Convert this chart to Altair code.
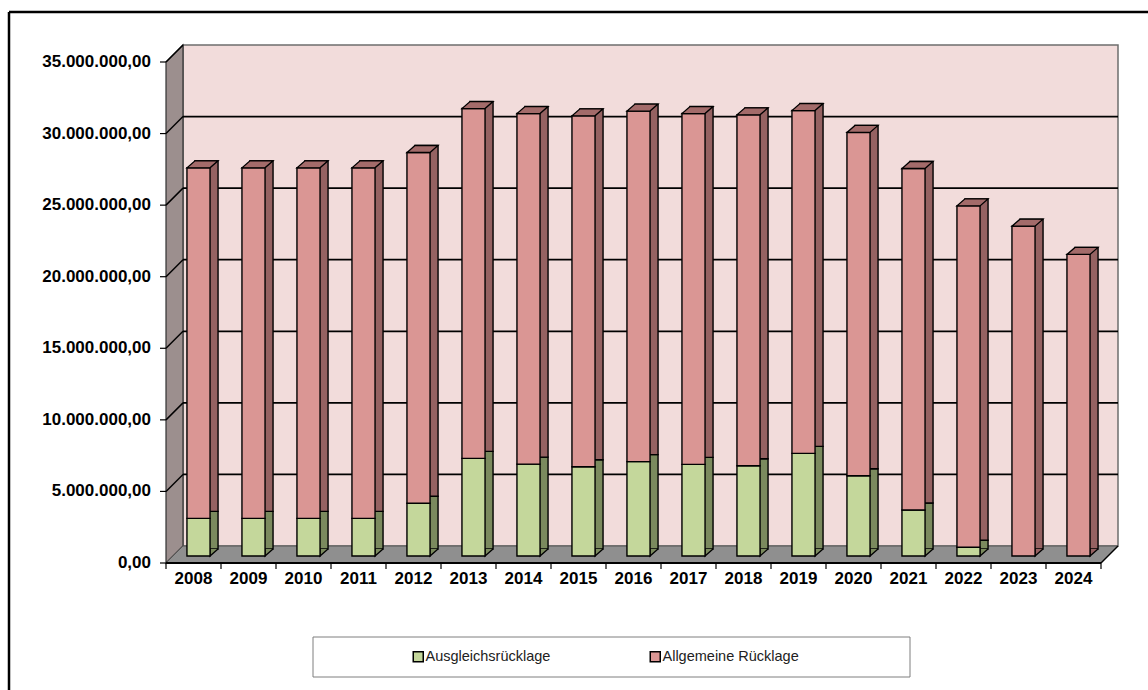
import altair as alt
import pandas as pd

# ---------------- data (values in EUR) ----------------
years = [str(y) for y in range(2008, 2025)]
ausgleich_mio = [2.63, 2.63, 2.63, 2.63, 3.68, 6.82, 6.42, 6.24, 6.59, 6.40,
                 6.31, 7.17, 5.61, 3.21, 0.61, 0.0, 0.0]
allgemein_mio = [24.49, 24.49, 24.49, 24.49, 24.51, 24.44, 24.49, 24.51, 24.49,
                 24.51, 24.51, 23.95, 23.98, 23.86, 23.85, 23.04, 21.07]
series = ["Ausgleichsrücklage", "Allgemeine Rücklage"]
y_ticks = [0, 5e6, 10e6, 15e6, 20e6, 25e6, 30e6, 35e6]
grid_vals = [5e6, 10e6, 15e6, 20e6, 25e6, 30e6]
stub_vals = [5e6, 10e6, 15e6, 20e6, 25e6, 30e6, 35e6]

front_colors = ["#C4D79B", "#DA9694"]
side_colors = ["#7B8A5E", "#956262"]

rows = []
for i, y in enumerate(years):
    rows.append({"year": y, "series": series[0], "idx": 0, "value": ausgleich_mio[i] * 1e6})
    rows.append({"year": y, "series": series[1], "idx": 1, "value": allgemein_mio[i] * 1e6})
df = pd.DataFrame(rows)
years_df = pd.DataFrame({"year": years})
ytick_df = pd.DataFrame({"v": y_ticks})
grid_df = pd.DataFrame({"v": grid_vals})
stub_df = pd.DataFrame({"v": stub_vals})
one = pd.DataFrame({"a": [0]})

W, H = 935, 501
D = 17  # depth offset of the pseudo-3D walls
FONT = "Liberation Sans"

x_scale = alt.Scale(paddingInner=0, paddingOuter=0)
y_scale = alt.Scale(domain=[0, 35e6], nice=False)

de_label = ("replace(join(split(join(split(format(datum.v, ',.2f'), '.'), '#'), ','), '.'), '#', ',')")

X = lambda **kw: alt.X("year:N", scale=x_scale, axis=None, sort=years, **kw)

# outer frame
frame_left = alt.Chart(one).mark_rule(color="black", strokeWidth=2.5).encode(
    x=alt.value(-174), y=alt.value(-33), y2=alt.value(H + 144))
frame_top = alt.Chart(one).mark_rule(color="black", strokeWidth=2.5).encode(
    x=alt.value(-174), x2=alt.value(W + 40), y=alt.value(-33))

# left wall and floor (pseudo 3D)
left_wall = alt.Chart(one).mark_point(
    shape="M0.032819,-1L-0.032819,-0.934363L-0.032819,1L0.032819,0.934363Z",
    size=(H + D) ** 2, filled=True, fill="#9C8F8E", stroke="#333333",
    strokeWidth=1.2, opacity=1).encode(x=alt.value(-D / 2), y=alt.value((H + D) / 2))
floor = alt.Chart(one).mark_point(
    shape="M-0.964286,-0.017857L1,-0.017857L0.964286,0.017857L-1,0.017857Z",
    size=(W + D) ** 2, filled=True, fill="#8F8F8F", stroke="#555555",
    strokeWidth=1, opacity=1).encode(x=alt.value((W - D) / 2), y=alt.value(H + D / 2))
front_edge = alt.Chart(one).mark_rule(color="black", strokeWidth=2).encode(
    x=alt.value(-D), x2=alt.value(W - D), y=alt.value(H + D))
right_edge = alt.Chart(one).mark_rule(color="black", strokeWidth=1.5).encode(
    x=alt.value(W - D), x2=alt.value(W), y=alt.value(H + D), y2=alt.value(H))

# gridlines on the back wall and the slanted stubs on the left wall
grid = alt.Chart(grid_df).mark_rule(color="black", strokeWidth=1.8).encode(
    y=alt.Y("v:Q", scale=y_scale, axis=None), x=alt.value(0), x2=alt.value(W))
stubs = alt.Chart(stub_df).mark_rule(color="black", strokeWidth=1.5, yOffset=D).encode(
    y=alt.Y("v:Q", scale=y_scale, axis=None), y2="v:Q", x=alt.value(-D), x2=alt.value(0))

# y axis (front plane): ticks and German-formatted labels
y_tick_marks = alt.Chart(ytick_df).mark_rule(color="black", strokeWidth=1.2, yOffset=D).encode(
    y=alt.Y("v:Q", scale=y_scale, axis=None), x=alt.value(-D - 6), x2=alt.value(-D))
y_labels = alt.Chart(ytick_df).transform_calculate(lab=de_label).mark_text(
    align="right", baseline="middle", font=FONT, fontWeight="bold", fontSize=17,
    color="black", yOffset=D).encode(
    y=alt.Y("v:Q", scale=y_scale, axis=None), x=alt.value(-D - 15), text="lab:N")

# x axis (front plane): ticks at band edges and year labels
x_ticks = alt.Chart(years_df).mark_rule(color="black", strokeWidth=1.2, xOffset=-D).encode(
    x=X(bandPosition=0), y=alt.value(H + D), y2=alt.value(H + D + 6))
x_tick_last = alt.Chart(years_df).transform_filter(
    alt.datum.year == years[-1]).mark_rule(color="black", strokeWidth=1.2, xOffset=-D).encode(
    x=X(bandPosition=1), y=alt.value(H + D), y2=alt.value(H + D + 6))
x_labels = alt.Chart(years_df).mark_text(
    align="center", baseline="top", font=FONT, fontWeight="bold", fontSize=17,
    color="black", xOffset=-D).encode(
    x=X(), y=alt.value(H + D + 8), text="year:N")

bar_base = alt.Chart(df).transform_filter("datum.value > 0")

bars_back = bar_base.mark_bar(
    width=alt.RelativeBandSize(0.42), xOffset=-4, x2Offset=-4, yOffset=3, y2Offset=3,
    stroke="black", strokeWidth=1.4).encode(
    x=X(),
    y=alt.Y("value:Q", stack="zero", scale=y_scale, axis=None),
    color=alt.Color("series:N", scale=alt.Scale(domain=series, range=side_colors), legend=None),
    order=alt.Order("idx:Q"))

# lower end of the side faces (fills the small notch at the bottom right)
bottoms = bar_base.transform_aggregate(
    minidx="min(idx)", groupby=["year"]
).transform_calculate(zero="0").mark_point(
    shape="M0.71875,-0.4375L0.71875,0L1.21875,-0.4375",
    size=1024, filled=True, stroke="black", strokeWidth=1.3, opacity=1,
    xOffset=-12, yOffset=10).encode(
    x=X(),
    y=alt.Y("zero:Q", scale=y_scale, axis=None),
    fill=alt.condition("datum.minidx == 0", alt.value(side_colors[0]), alt.value(side_colors[1])))

bars_front = bar_base.mark_bar(
    width=alt.RelativeBandSize(0.42), xOffset=-12, x2Offset=-12, yOffset=10, y2Offset=10,
    stroke="black", strokeWidth=1.4).encode(
    x=X(),
    y=alt.Y("value:Q", stack="zero", scale=y_scale, axis=None),
    color=alt.Color("series:N", scale=alt.Scale(domain=series, range=front_colors),
                    legend=alt.Legend(orient="none", legendX=228, legendY=604,
                                      direction="horizontal", title=None,
                                      symbolType="square", symbolSize=100,
                                      symbolStrokeColor="black", symbolStrokeWidth=1.5,
                                      labelFont=FONT, labelFontSize=14.5,
                                      labelColor="#222222", labelOffset=0,
                                      columnPadding=96, padding=0)),
    order=alt.Order("idx:Q"))

# top faces of the bars (pseudo 3D), placed at each year's total
tops = alt.Chart(df).transform_aggregate(
    total="sum(value)", groupby=["year"]
).mark_point(
    shape="M-0.71875,0L0.71875,0L1.21875,-0.4375L-0.21875,-0.4375Z",
    size=1024, filled=True, fill="#A36B6A", stroke="black", strokeWidth=1.3,
    opacity=1, xOffset=-12, yOffset=10).encode(
    x=X(),
    y=alt.Y("total:Q", scale=y_scale, axis=None))

legend_box = alt.Chart(one).mark_rect(fill="white", stroke="#7F7F7F", strokeWidth=1).encode(
    x=alt.value(130), x2=alt.value(727), y=alt.value(592), y2=alt.value(632))

chart = alt.layer(
    frame_left, frame_top, left_wall, floor, grid, stubs, front_edge, right_edge,
    y_tick_marks, y_labels, x_ticks, x_tick_last, x_labels,
    bars_back, bottoms, bars_front, tops, legend_box
).resolve_scale(color="independent").properties(
    width=W, height=H,
    autosize=alt.AutoSizeParams(type="none"),
    padding={"left": 183, "top": 45, "right": 30, "bottom": 144},
    background="white",
).configure_view(
    fill="#F2DCDB", stroke="#6E6E6E", strokeWidth=1.5
)

chart.save("out.html", embed_options={"renderer": "svg", "actions": False})
